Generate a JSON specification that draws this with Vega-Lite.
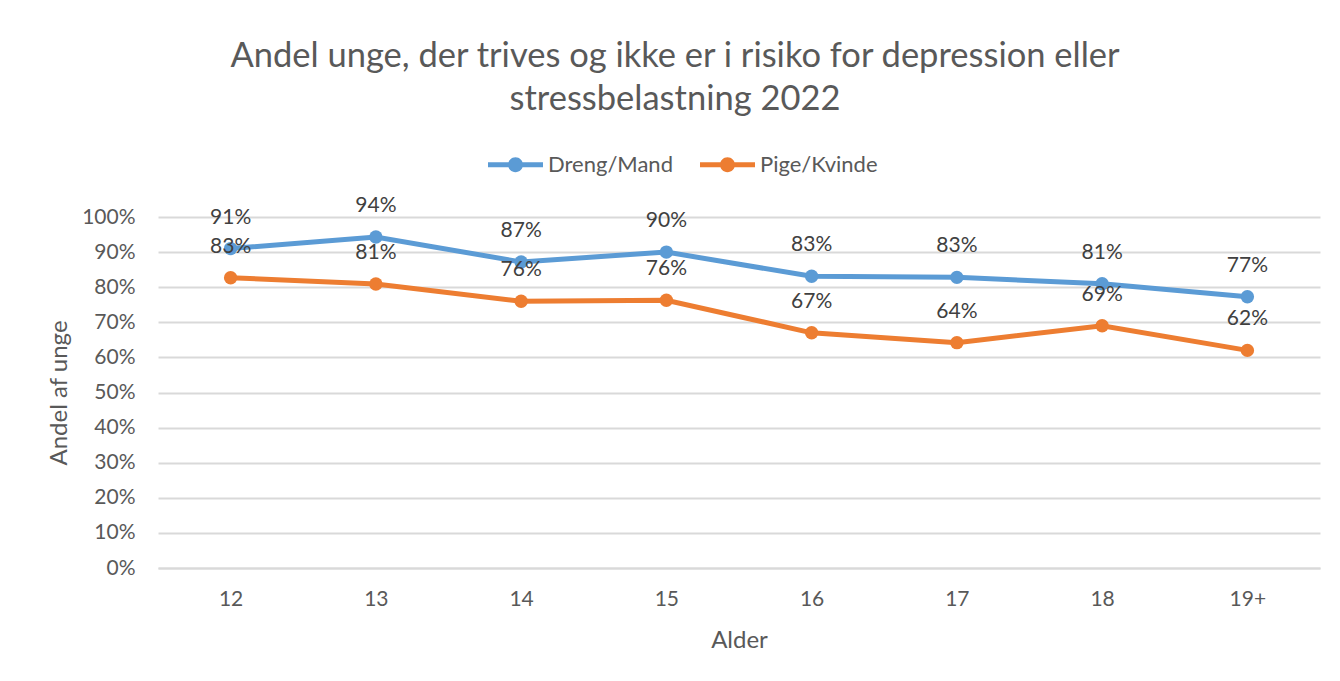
{
  "$schema": "https://vega.github.io/schema/vega-lite/v6.json",
  "width": 1162,
  "height": 351,
  "autosize": "none",
  "padding": {"left": 158, "top": 217, "right": 20, "bottom": 113},
  "background": "white",
  "title": {
    "text": ["Andel unge, der trives og ikke er i risiko for depression eller", "stressbelastning 2022"],
    "font": "Lato",
    "fontSize": 34.5,
    "fontWeight": "normal",
    "color": "#595959",
    "anchor": "middle",
    "frame": "group",
    "dx": -64,
    "lineHeight": 43,
    "offset": 20
  },
  "data": {
    "values": [
      {"alder": "12", "koen": "Dreng/Mand", "andel": 0.910},
      {"alder": "13", "koen": "Dreng/Mand", "andel": 0.943},
      {"alder": "14", "koen": "Dreng/Mand", "andel": 0.872},
      {"alder": "15", "koen": "Dreng/Mand", "andel": 0.900},
      {"alder": "16", "koen": "Dreng/Mand", "andel": 0.831},
      {"alder": "17", "koen": "Dreng/Mand", "andel": 0.828},
      {"alder": "18", "koen": "Dreng/Mand", "andel": 0.810},
      {"alder": "19+", "koen": "Dreng/Mand", "andel": 0.773},
      {"alder": "12", "koen": "Pige/Kvinde", "andel": 0.827},
      {"alder": "13", "koen": "Pige/Kvinde", "andel": 0.809},
      {"alder": "14", "koen": "Pige/Kvinde", "andel": 0.760},
      {"alder": "15", "koen": "Pige/Kvinde", "andel": 0.763},
      {"alder": "16", "koen": "Pige/Kvinde", "andel": 0.670},
      {"alder": "17", "koen": "Pige/Kvinde", "andel": 0.642},
      {"alder": "18", "koen": "Pige/Kvinde", "andel": 0.690},
      {"alder": "19+", "koen": "Pige/Kvinde", "andel": 0.620}
    ]
  },
  "encoding": {
    "x": {
      "field": "alder",
      "type": "ordinal",
      "sort": ["12", "13", "14", "15", "16", "17", "18", "19+"],
      "scale": {"type": "point", "padding": 0.5},
      "axis": {
        "title": "Alder",
        "labelAngle": 0,
        "labelFont": "Lato",
        "labelFontSize": 21,
        "labelColor": "#595959",
        "labelPadding": 20,
        "ticks": false,
        "domain": true,
        "domainColor": "#d9d9d9",
        "domainWidth": 2,
        "grid": false,
        "titleFont": "Lato",
        "titleFontSize": 24,
        "titleFontWeight": "normal",
        "titleColor": "#595959",
        "titlePadding": 19
      }
    },
    "y": {
      "field": "andel",
      "type": "quantitative",
      "scale": {"domain": [0, 1], "nice": false, "zero": true},
      "axis": {
        "title": "Andel af unge",
        "values": [0, 0.1, 0.2, 0.3, 0.4, 0.5, 0.6, 0.7, 0.8, 0.9, 1],
        "format": ".0%",
        "labelFont": "Lato",
        "labelFontSize": 21,
        "labelColor": "#595959",
        "labelPadding": 23,
        "ticks": false,
        "domain": false,
        "grid": true,
        "gridColor": "#d9d9d9",
        "gridWidth": 2,
        "titleFont": "Lato",
        "titleFontSize": 24,
        "titleFontWeight": "normal",
        "titleColor": "#595959",
        "titlePadding": 10
      }
    },
    "color": {
      "field": "koen",
      "type": "nominal",
      "scale": {"domain": ["Dreng/Mand", "Pige/Kvinde"], "range": ["#5b9bd5", "#ed7d31"]},
      "legend": {
        "title": null,
        "orient": "none",
        "direction": "horizontal",
        "legendX": 330,
        "legendY": -80,
        "padding": 0,
        "symbolType": "M-1,-0.09L1,-0.09L1,0.09L-1,0.09Z M-0.27,0A0.27,0.27 0 1,1 0.27,0A0.27,0.27 0 1,1 -0.27,0Z",
        "symbolSize": 3025,
        "symbolStrokeWidth": 0,
        "labelFont": "Lato",
        "labelFontSize": 22,
        "labelColor": "#595959",
        "labelOffset": 5,
        "columnPadding": 27,
        "encode": {
          "symbols": {
            "update": {
              "fill": {"scale": "color", "field": "value"},
              "stroke": {"value": "transparent"},
              "opacity": {"value": 1}
            }
          }
        }
      }
    }
  },
  "layer": [
    {"mark": {"type": "line", "strokeWidth": 5}},
    {"mark": {"type": "point", "filled": true, "size": 180, "opacity": 1}},
    {
      "mark": {"type": "text", "dy": -31, "font": "Lato", "fontSize": 21, "color": "#404040", "baseline": "middle"},
      "encoding": {
        "text": {"field": "andel", "type": "quantitative", "format": ".0%"},
        "color": {"value": "#404040"}
      }
    }
  ],
  "config": {
    "view": {"stroke": null}
  }
}
